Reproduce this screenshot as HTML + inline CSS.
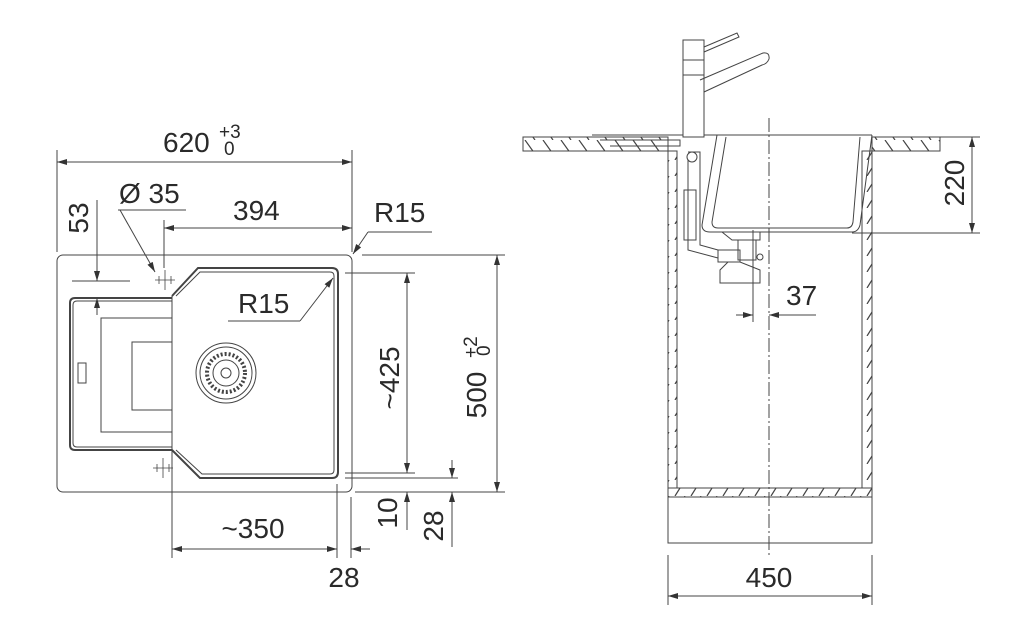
<!DOCTYPE html>
<html><head><meta charset="utf-8"><style>
html,body{margin:0;padding:0;background:#fff}
svg{display:block}
text{font-family:"Liberation Sans",Arial,sans-serif;fill:#2a2a2a}
</style></head><body>
<svg width="1024" height="638" viewBox="0 0 1024 638" xmlns="http://www.w3.org/2000/svg">
<defs>
<marker id="a" viewBox="0 0 10 6" refX="10" refY="3" markerWidth="12" markerHeight="6" markerUnits="userSpaceOnUse" orient="auto-start-reverse"><path d="M0,0 L10,3 L0,6 z" fill="#333"/></marker>
<pattern id="h" width="16" height="16" patternUnits="userSpaceOnUse"><path d="M3,16 L13,0" stroke="#444" stroke-width="1.2"/></pattern>
<pattern id="h2" width="18" height="14" patternUnits="userSpaceOnUse"><path d="M3,0 L13,14" stroke="#444" stroke-width="1.2"/></pattern>
</defs>
<g stroke="#444" stroke-width="1" fill="none">
<rect x="57" y="255" width="295" height="237" rx="6"/>
<path d="M172,298 L75,298 Q70,298 70,303 L70,445 Q70,450 75,450 L172,450" stroke-width="2"/>
<path d="M172,301 L77,301 Q73,301 73,305 L73,443 Q73,447 77,447 L172,447"/>
<path d="M172,318 L101,318 L101,432 L172,432"/>
<path d="M172,342 L132,342 L132,410 L172,410"/>
<rect x="78" y="363" width="8" height="20"/>
<line x1="172" y1="296" x2="172" y2="452"/>
<path d="M172,296 L198,268 L332,268 Q338,268 338,274 L338,472 Q338,478 332,478 L200,478 L172,450" stroke-width="2"/>
<path d="M176,296 L200,272 L330,272 Q334,272 334,276 L334,470 Q334,474 330,474 L202,474 L176,450"/>
<circle cx="226" cy="373" r="30"/><circle cx="226" cy="373" r="26"/><circle cx="226" cy="373" r="19" stroke-dasharray="2 2" stroke-width="4"/><circle cx="226" cy="373" r="13"/><circle cx="226" cy="373" r="5"/>
<g stroke-width="0.8"><line x1="155" y1="280" x2="175" y2="280"/><line x1="165" y1="270" x2="165" y2="290"/><line x1="159" y1="276" x2="159" y2="284"/><line x1="171" y1="276" x2="171" y2="284"/>
<line x1="153" y1="468" x2="173" y2="468"/><line x1="163" y1="458" x2="163" y2="478"/><line x1="157" y1="464" x2="157" y2="472"/><line x1="169" y1="464" x2="169" y2="472"/></g>
<line x1="57" y1="150" x2="57" y2="252"/><line x1="352" y1="150" x2="352" y2="252"/>
<line x1="57" y1="162" x2="352" y2="162" marker-start="url(#a)" marker-end="url(#a)"/>
<line x1="164" y1="220" x2="164" y2="268"/>
<line x1="164" y1="228" x2="352" y2="228" marker-start="url(#a)" marker-end="url(#a)"/>
<line x1="118" y1="210" x2="186" y2="210"/>
<line x1="120" y1="210" x2="155" y2="272" marker-end="url(#a)"/>
<line x1="72" y1="281" x2="130" y2="281"/>
<line x1="97" y1="200" x2="97" y2="281" marker-end="url(#a)"/>
<line x1="97" y1="315" x2="97" y2="298" marker-end="url(#a)"/>
<line x1="368" y1="232" x2="432" y2="232"/>
<line x1="368" y1="232" x2="353" y2="254" marker-end="url(#a)"/>
<line x1="228" y1="321" x2="300" y2="321"/>
<line x1="300" y1="321" x2="333" y2="278" marker-end="url(#a)"/>
<line x1="345" y1="273" x2="415" y2="273"/>
<line x1="345" y1="473" x2="415" y2="473"/>
<line x1="345" y1="478" x2="458" y2="478"/>
<line x1="407" y1="273" x2="407" y2="473" marker-start="url(#a)" marker-end="url(#a)"/>
<line x1="362" y1="255" x2="505" y2="255"/>
<line x1="355" y1="492" x2="505" y2="492"/>
<line x1="497" y1="255" x2="497" y2="492" marker-start="url(#a)" marker-end="url(#a)"/>
<line x1="407" y1="492" x2="407" y2="530"/>
<line x1="407" y1="506" x2="407" y2="492" marker-end="url(#a)"/>
<line x1="452" y1="460" x2="452" y2="478" marker-end="url(#a)"/>
<line x1="452" y1="506" x2="452" y2="492" marker-end="url(#a)"/>
<line x1="452" y1="506" x2="452" y2="547"/>
<line x1="172" y1="452" x2="172" y2="558"/>
<line x1="337" y1="484" x2="337" y2="558"/>
<line x1="351" y1="497" x2="351" y2="558"/>
<line x1="172" y1="549" x2="337" y2="549" marker-start="url(#a)" marker-end="url(#a)"/>
<line x1="370" y1="549" x2="351" y2="549" marker-end="url(#a)"/>

<rect x="523" y="137" width="145" height="14" fill="url(#h2)"/>
<rect x="872" y="137" width="68" height="14" fill="url(#h2)"/>
<line x1="592" y1="135" x2="872" y2="135"/>
<path d="M600,140 L680,140 L680,146 L610,146"/>
<rect x="668" y="151" width="9" height="337" fill="url(#h)"/>
<rect x="862" y="151" width="10" height="337" fill="url(#h)"/>
<rect x="668" y="488" width="204" height="9" fill="url(#h)"/>
<rect x="668" y="497" width="204" height="46"/>
<path d="M717,135 L702,225 Q702,232 710,232 L852,232 Q858,232 860,225 L872,135"/>
<path d="M726,137 L712,222 Q712,228 718,228 L847,228 Q852,228 853,222 L860,137"/>
<path d="M722,232 L760,232 L760,240 L732,240 Z"/>
<rect x="738" y="240" width="18" height="20"/>
<path d="M718,250 L740,250 L740,262 L718,262 Z"/>
<path d="M728,262 L740,262 L760,270 L760,283 L720,283 L720,270 Z"/>
<circle cx="760" cy="257" r="3"/>
<path d="M688,152 L700,152 L700,245 L718,250 M688,160 L688,250 L718,258"/>
<rect x="684" y="190" width="12" height="50"/>
<circle cx="692" cy="157" r="5"/>
<rect x="683" y="40" width="21" height="97" fill="#fff"/>
<line x1="683" y1="60" x2="704" y2="60"/><line x1="683" y1="75" x2="704" y2="75"/>
<path d="M704,47 L737,33 L739,37 L704,52"/>
<path d="M700,80 L763,53 Q770,52 769,59 Q767,64 762,65 L704,92"/>
<line x1="769" y1="118" x2="769" y2="555" stroke-dasharray="14 3 2 3"/>
<line x1="872" y1="137" x2="980" y2="137"/>
<line x1="852" y1="233" x2="980" y2="233"/>
<line x1="972" y1="137" x2="972" y2="233" marker-start="url(#a)" marker-end="url(#a)"/>
<line x1="753" y1="230" x2="753" y2="322"/>
<line x1="736" y1="315" x2="753" y2="315" marker-end="url(#a)"/>
<line x1="786" y1="315" x2="769" y2="315" marker-end="url(#a)"/>
<line x1="786" y1="315" x2="816" y2="315"/>
<line x1="668" y1="555" x2="668" y2="605"/><line x1="872" y1="555" x2="872" y2="605"/>
<line x1="668" y1="596" x2="872" y2="596" marker-start="url(#a)" marker-end="url(#a)"/>
</g>
<g font-size="28">
<text x="163" y="152">620</text>
<text x="219" y="138" font-size="19">+3</text>
<text x="224" y="155" font-size="19">0</text>
<text x="119" y="203">Ø 35</text>
<text x="233" y="220">394</text>
<text x="374" y="222">R15</text>
<text x="238" y="313">R15</text>
<text x="253" y="538" text-anchor="middle">~350</text>
<text x="344" y="587" text-anchor="middle">28</text>
<text x="786" y="305">37</text>
<text x="769" y="587" text-anchor="middle">450</text>
<text transform="translate(88,218) rotate(-90)" text-anchor="middle">53</text>
<text transform="translate(399,378) rotate(-90)" text-anchor="middle">~425</text>
<text transform="translate(486,395) rotate(-90)" text-anchor="middle">500</text>
<text transform="translate(477,358) rotate(-90)" font-size="19">+2</text>
<text transform="translate(490,356) rotate(-90)" font-size="19">0</text>
<text transform="translate(397,513) rotate(-90)" text-anchor="middle">10</text>
<text transform="translate(443,526) rotate(-90)" text-anchor="middle">28</text>
<text transform="translate(964,183) rotate(-90)" text-anchor="middle">220</text>
</g>
</svg>
</body></html>
